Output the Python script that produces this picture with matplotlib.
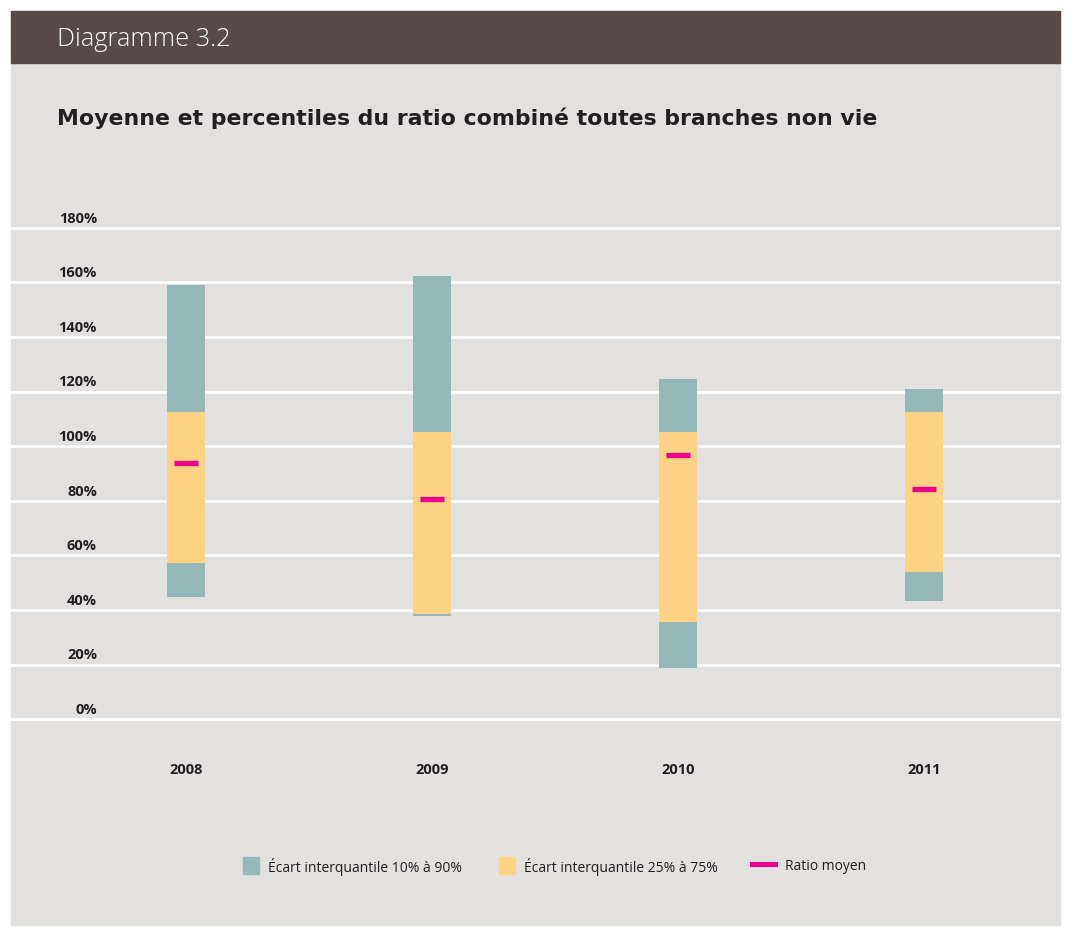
import matplotlib
matplotlib.use("Agg")
import matplotlib.pyplot as plt
from matplotlib.patches import Rectangle
from matplotlib.lines import Line2D

# données (en %)
annees = ["2008", "2009", "2010", "2011"]
p10 = [44.7, 37.7, 18.7, 43.2]
p25 = [57.2, 38.4, 35.5, 53.9]
p75 = [112.5, 105.1, 105.2, 112.5]
p90 = [159.2, 162.3, 124.6, 121.0]
moyenne = [93.7, 80.5, 96.7, 84.2]
graduations = [0, 20, 40, 60, 80, 100, 120, 140, 160, 180]

W, H = 1071, 931
fond = "#E2E1DF"
brun = "#574A47"
bleu = "#97B8B9"
jaune = "#FDD383"
rose = "#EC008C"
texte = "#231F20"

plt.rcParams['font.family'] = ['Open Sans', 'DejaVu Sans']

fig = plt.figure(figsize=(W / 100, H / 100), dpi=100)
fig.patch.set_facecolor("white")


def fx(x):
    return x / W


def fy(y):
    return 1 - y / H


# panneau gris et bandeau
fig.add_artist(Rectangle((fx(11), fy(925)), fx(1060) - fx(11), fy(11) - fy(925),
                         transform=fig.transFigure, color=fond, zorder=0))
fig.add_artist(Rectangle((fx(11), fy(63)), fx(1060) - fx(11), fy(11) - fy(63),
                         transform=fig.transFigure, color=brun, zorder=1))
fig.text(fx(57), fy(39), "Diagramme 3.2", color="white", fontsize=18.3,
         va="center", ha="left", fontweight="light")
fig.text(fx(57), fy(118), "Moyenne et percentiles du ratio combiné toutes branches non vie",
         color=texte, fontsize=15.8, fontweight="bold", va="center", ha="left",
         family=["DejaVu Sans"])

ax = fig.add_axes([fx(11), fy(730), fx(1060) - fx(11), fy(217) - fy(730)])
ax.set_facecolor("none")
x0 = (11 - 186) / 246
x1 = (1060 - 186) / 246
ax.set_xlim(x0, x1)
ax.set_ylim(-4, 184)
for s in ax.spines.values():
    s.set_visible(False)
ax.set_xticks([])
ax.set_yticks([])

for g in graduations:
    ax.axhline(g, color="white", lw=2, zorder=1)
    ax.text(-0.362, g + 0.8, f"{g}%", ha="right", va="bottom", fontsize=10.5,
            fontweight="bold", color=texte)

pos = list(range(len(annees)))
larg = 0.155
ax.bar(pos, [b - a for a, b in zip(p10, p90)], bottom=p10, width=larg,
       color=bleu, zorder=3)
ax.bar(pos, [b - a for a, b in zip(p25, p75)], bottom=p25, width=larg,
       color=jaune, zorder=4)
ax.hlines(moyenne, [p - 0.047 for p in pos], [p + 0.047 for p in pos],
          color=rose, lw=3.8, zorder=5)

for p, a in zip(pos, annees):
    ax.text(p, -18.7, a, ha="center", va="center", fontsize=10.5,
            fontweight="bold", color=texte, clip_on=False)

# légende
ly = 866
fig.add_artist(Rectangle((fx(243), fy(874)), fx(16), fy(857) - fy(874),
                         transform=fig.transFigure, color=bleu))
fig.text(fx(268), fy(ly + 1), "Écart interquantile 10% à 90%", fontsize=10,
         color=texte, va="center", ha="left")
fig.add_artist(Rectangle((fx(499), fy(874)), fx(16), fy(857) - fy(874),
                         transform=fig.transFigure, color=jaune))
fig.text(fx(524), fy(ly + 1), "Écart interquantile 25% à 75%", fontsize=10,
         color=texte, va="center", ha="left")
fig.add_artist(Line2D([fx(752), fx(775)], [fy(864), fy(864)],
                      transform=fig.transFigure, color=rose, lw=3.6))
fig.text(fx(785), fy(ly + 1), "Ratio moyen", fontsize=10,
         color=texte, va="center", ha="left")

fig.savefig("out.png", dpi=100, facecolor="white")
